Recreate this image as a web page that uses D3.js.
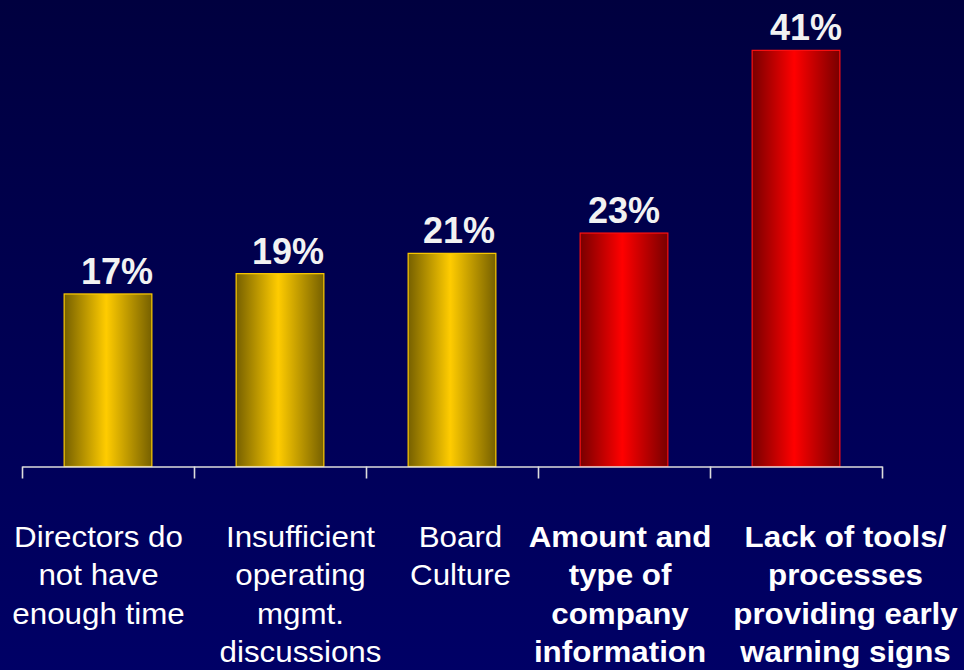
<!DOCTYPE html>
<html>
<head>
<meta charset="utf-8">
<script src="https://cdn.jsdelivr.net/npm/d3@7"></script>
<style>
  html, body { margin: 0; padding: 0; background: #000040; }
  svg { display: block; }
</style>
</head>
<body>
<script>
// Survey results: obstacles to board effectiveness
const categories = ["time", "mgmt", "culture", "info", "tools"];
const values = [17, 19, 21, 23, 41];
const emphasis = [false, false, false, true, true];
const labelLines = [
  ["Directors do", "not have", "enough time"],
  ["Insufficient", "operating", "mgmt.", "discussions"],
  ["Board", "Culture"],
  ["Amount and", "type of", "company", "information"],
  ["Lack of tools/", "processes", "providing early", "warning signs"]
];

// Layout
const W = 964, H = 670;
const axisY = 466.5;
const labelShift = [-9.5, 20.5, 8.5, -4, 49.5];
const valueShift = [9, 8, 7, 0, 10];

const svg = d3.select("body").append("svg")
  .attr("width", W).attr("height", H);

const defs = svg.append("defs");
const bg = defs.append("linearGradient").attr("id", "bg")
  .attr("x1", 0).attr("y1", 0).attr("x2", 0).attr("y2", 1);
bg.append("stop").attr("offset", "0%").attr("stop-color", "#00003f");
bg.append("stop").attr("offset", "100%").attr("stop-color", "#000066");

function barGradient(id, edge, mid) {
  const g = defs.append("linearGradient").attr("id", id)
    .attr("x1", 0).attr("y1", 0).attr("x2", 1).attr("y2", 0);
  g.append("stop").attr("offset", "0%").attr("stop-color", edge);
  g.append("stop").attr("offset", "48%").attr("stop-color", mid);
  g.append("stop").attr("offset", "100%").attr("stop-color", edge);
}
barGradient("gold", "#766000", "#ffcc00");
barGradient("red", "#780000", "#ff0000");

svg.append("rect").attr("width", W).attr("height", H).attr("fill", "url(#bg)");

const x = d3.scaleBand().domain(categories).range([22, 882]);
const y = d3.scaleLinear().domain([0, 45]).range([axisY, 9.75]);
const bw = x.bandwidth();
const barW = bw * 0.51;

// Bars
svg.append("g").selectAll("rect")
  .data(values)
  .join("rect")
  .attr("x", (d, i) => x(categories[i]) + (bw - barW) / 2)
  .attr("y", d => y(d))
  .attr("width", barW)
  .attr("height", d => y(0) - y(d))
  .attr("fill", (d, i) => emphasis[i] ? "url(#red)" : "url(#gold)")
  .attr("stroke", (d, i) => emphasis[i] ? "#ff1010" : "#ffcc00")
  .attr("stroke-width", 1.2);

// Category axis with ticks at the band edges
const edge = d3.scaleLinear().domain([0, categories.length]).range(x.range());
svg.append("g")
  .attr("transform", `translate(0,${axisY})`)
  .call(d3.axisBottom(edge).ticks(categories.length).tickSize(12).tickSizeOuter(0).tickFormat(""))
  .call(g => g.selectAll("path, line").attr("stroke", "#dcdcdc").attr("stroke-width", 1.6));

// Value labels
svg.append("g").selectAll("text")
  .data(values)
  .join("text")
  .attr("x", (d, i) => x(categories[i]) + bw / 2 + valueShift[i])
  .attr("y", d => y(d) - 10)
  .attr("text-anchor", "middle")
  .attr("font-family", "Liberation Sans, Arial, sans-serif")
  .attr("font-weight", "bold")
  .attr("font-size", 36)
  .attr("fill", "#f2f2f2")
  .text(d => d + "%");

// Category labels (slightly widened glyphs)
const lab = svg.append("g").selectAll("text")
  .data(labelLines)
  .join("text")
  .attr("transform", (d, i) =>
    `translate(${x(categories[i]) + bw / 2 + labelShift[i]},0) scale(1.08,1)`)
  .attr("text-anchor", "middle")
  .attr("font-family", "Liberation Sans, Arial, sans-serif")
  .attr("font-size", 29)
  .attr("font-weight", (d, i) => emphasis[i] ? "bold" : "normal")
  .attr("fill", "#ffffff");

lab.each(function (lines) {
  d3.select(this).selectAll("tspan")
    .data(lines)
    .join("tspan")
    .attr("x", 0)
    .attr("y", (d, j) => 547 + j * 38.4)
    .text(d => d);
});
</script>
</body>
</html>
